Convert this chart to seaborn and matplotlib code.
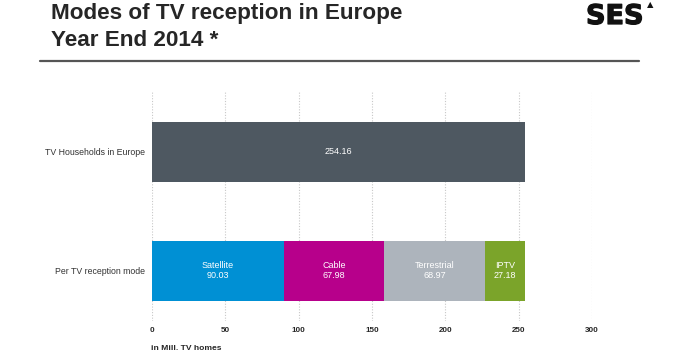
import matplotlib
matplotlib.use("Agg")
import matplotlib.pyplot as plt
import matplotlib.patheffects as pe
import seaborn as sns
import numpy as np
import pandas as pd

# data
rows = ["TV Households in Europe", "Per TV reception mode"]
total = [254.16]
modes = ["Satellite", "Cable", "Terrestrial", "IPTV"]
mode_values = [90.03, 67.98, 68.97, 27.18]
mode_colors = ["#0090d4", "#b7008b", "#adb4bc", "#7ba42a"]
total_color = "#4e5861"
xticks = [0, 50, 100, 150, 200, 250, 300]

sns.set_theme(style="white")
plt.rcParams['font.family'] = ['Liberation Sans', 'DejaVu Sans']

W, H = 680, 353
fig = plt.figure(figsize=(6.8, 3.53), dpi=100)
ax = fig.add_axes([152/W, 1-321/H, 440/W, 229/H])

# stacked bar: draw cumulative sums from largest to smallest so they overlap
cum = np.cumsum(mode_values)
df_total = pd.DataFrame({"row": [rows[0]], "value": total})
sns.barplot(data=df_total, x="value", y="row", order=rows, color=total_color,
            width=0.507, saturation=1, linewidth=0, ax=ax)
for i in range(len(modes) - 1, -1, -1):
    d = pd.DataFrame({"row": [rows[1]], "value": [cum[i]]})
    sns.barplot(data=d, x="value", y="row", order=rows, color=mode_colors[i],
                width=0.507, saturation=1, linewidth=0, ax=ax)

# labels inside bars
ax.text(total[0] / 2, 0, f"{total[0]:.2f}", color="white", fontsize=6.5,
        ha="center", va="center")
starts = np.concatenate([[0], cum[:-1]])
for name, v, s in zip(modes, mode_values, starts):
    ax.text(s + v / 2, 1, f"{name}\n{v:.2f}", color="white", fontsize=6.5,
            ha="center", va="center", linespacing=1.1)

ax.set_xlim(0, 300)
ax.set_ylim(1.423, -0.504)
ax.set_xticks(xticks)
ax.set_xticklabels([str(t) for t in xticks], fontsize=5.8, fontweight="bold")
ax.tick_params(axis="y", labelsize=6.3, colors="#333333", length=0, pad=5)
ax.tick_params(axis="x", length=0, pad=4.3)
ax.set_xlabel("")
ax.set_ylabel("")
for s in ax.spines.values():
    s.set_visible(False)
ax.xaxis.grid(True, linestyle=(0, (1, 1.5)), color="#c8c8c8", linewidth=0.8)
ax.set_axisbelow(True)

fig.text(151/W, 1-348/H, "in Mill. TV homes", fontsize=6.1,
         fontweight="bold", ha="left", va="center")

# header
fig.text(51/W, 1-19/H, "Modes of TV reception in Europe", fontsize=16.2,
         fontweight="bold", ha="left", va="baseline")
fig.text(51/W, 1-46/H, "Year End 2014 *", fontsize=16.2,
         fontweight="bold", ha="left", va="baseline")
fig.add_artist(plt.Line2D([40/W, 639/W], [1-61/H, 1-61/H],
                          color="#555555", linewidth=1.6))
fig.text(586/W, 1-24/H, "SES", fontsize=19.5, fontweight="bold",
         ha="left", va="baseline", color="#111111", family=['DejaVu Sans'],
         path_effects=[pe.withStroke(linewidth=0.9, foreground="#111111")])
fig.text(647/W, 1-5/H, "▲", fontsize=6, ha="left", va="center",
         color="#111111", family=['DejaVu Sans'])

fig.savefig("out.png", dpi=100)
